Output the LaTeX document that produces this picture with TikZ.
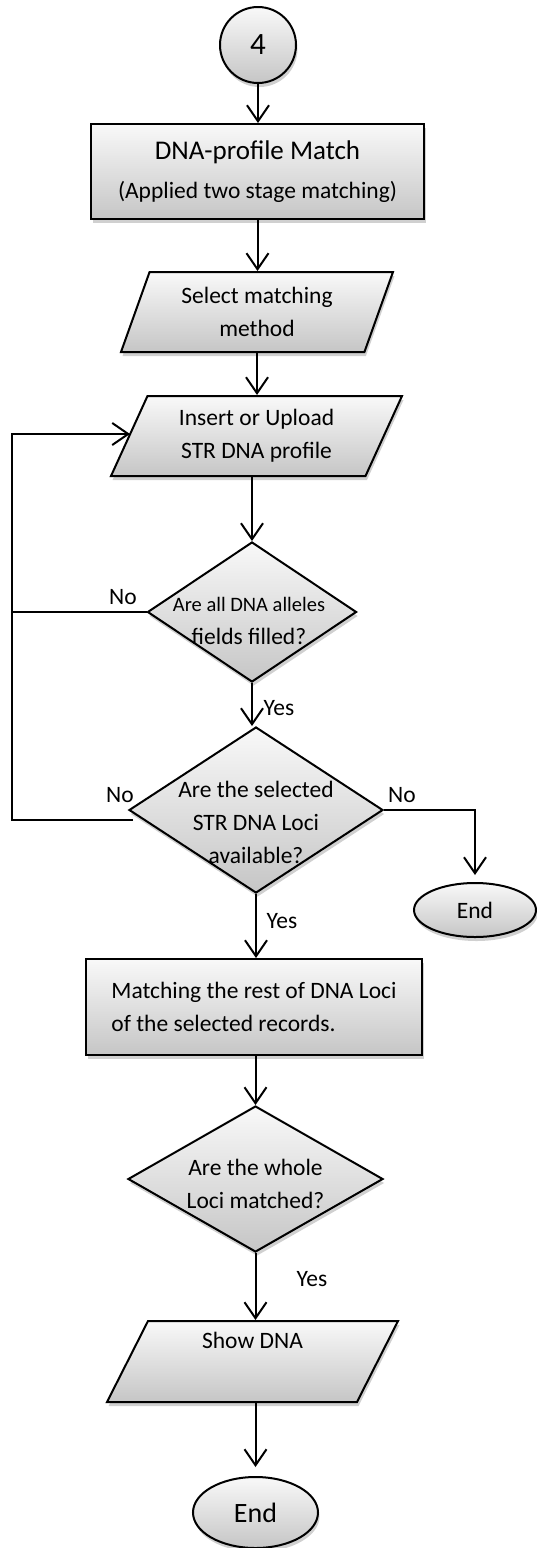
\documentclass[tikz,border=0pt]{standalone}
\usepackage{fontspec}
\setmainfont{Carlito}
\usepackage{tikz}
\usetikzlibrary{shapes.geometric, arrows.meta, shadows}
\tikzstyle{shaded}   = [draw, line width=2pt, top color=gray!5, bottom color=gray!45, drop shadow={shadow xshift=1.5pt, shadow yshift=-4pt, fill=black!37}]
\tikzstyle{terminal} = [shaded, ellipse, inner sep=0pt, align=center]
\tikzstyle{procbox}  = [shaded, rectangle, inner sep=0pt, align=center]
\tikzstyle{iobox}    = [shaded, trapezium, trapezium stretches body, inner sep=0pt, align=center]
\tikzstyle{decision} = [shaded, diamond, inner sep=0pt]
\tikzstyle{plain}    = [inner sep=0pt, align=center]
\tikzstyle{edge}     = [line width=2pt]
\tikzstyle{diredge}  = [line width=2pt, -{Straight Barb[length=16pt, width=22pt]}]
\newcommand{\txt}{\fontsize{23.5}{33}\selectfont}

\begin{document}
\begin{tikzpicture}[x=1pt, y=-1pt, font=\txt]

\useasboundingbox (0,0) rectangle (536,1548);

\node[terminal, circle, minimum size=76pt, font=\fontsize{31}{35}\selectfont] (N4) at (258,45) {4};

\node[procbox, minimum width=333pt, minimum height=95pt] (R1) at (257.5,171.5) {{\fontsize{27}{30}\selectfont DNA-profile Match}\\[6pt](Applied two stage matching)};

\node[iobox, trapezium left angle=60, trapezium right angle=120, minimum width=272pt, minimum height=80pt] (P1) at (257,312) {Select matching\\method};
\node[iobox, trapezium left angle=55.5, trapezium right angle=124.5, minimum width=291pt, minimum height=80pt] (P2) at (256.5,436) {Insert or Upload\\STR DNA profile};

\node[decision, minimum width=209pt, minimum height=140pt] (D1) at (252,612) {};
\node[plain] (D1T) at (249,620.5) {\fontsize{20.5}{29}\selectfont Are all DNA alleles\\fields filled?};

\node[decision, minimum width=254pt, minimum height=166pt] (D2) at (256,810) {};
\node[plain] (D2T) at (256,822.5) {\fontsize{23.5}{34.5}\selectfont Are the selected\\STR DNA Loci\\available?};

\node[terminal, minimum width=122pt, minimum height=54pt] (E1) at (475,910) {End};

\node[procbox, align=left, minimum width=336pt, minimum height=96pt] (R2) at (254,1007) {Matching the rest of DNA Loci\\of the selected records.};

\node[decision, minimum width=255pt, minimum height=146pt] (D3) at (255.5,1179) {};
\node[plain] (D3T) at (255.5,1184) {\fontsize{23.5}{34}\selectfont Are the whole\\Loci matched?};

\node[iobox, trapezium left angle=55.3, trapezium right angle=124.7, minimum width=291pt, minimum height=81pt] (P3) at (252.5,1361.5) {Show DNA\\ \strut};

\node[terminal, minimum width=125pt, minimum height=71pt, font=\fontsize{28}{32}\selectfont] (E2) at (255.5,1512.5) {End};

\node[plain] (NO1) at (123,597) {No};
\node[plain] (YES1) at (279,708) {Yes};
\node[plain] (NO2) at (120,795) {No};
\node[plain] (NO3) at (402,795) {No};
\node[plain] (YES2) at (282,921) {Yes};
\node[plain] (YES3) at (312,1279) {Yes};

\coordinate (LT) at (12,434);
\coordinate (LB) at (12,820);
\coordinate (IN) at (130,434);
\coordinate (D2L) at (133,820);

\draw[diredge] (N4.south) -- (N4.south |- R1.north);
\draw[diredge] (R1.south) -- (R1.south |- P1.north);
\draw[diredge] (P1.south) -- (P1.south |- P2.north);
\draw[diredge] (D1.north |- P2.south) -- (D1.north);
\draw[diredge] (D1.south) -- (D1.south |- D2.north);
\draw[diredge] (D2.south) -- (D2.south |- R2.north);
\draw[diredge] (D3.north |- R2.south) -- (D3.north);
\draw[diredge] (D3.south) -- (D3.south |- P3.north);
\draw[diredge, shorten >=9pt] (E2.north |- P3.south) -- (E2.north);

\draw[edge] (D1.west) -- (D1.west -| LT);
\draw[diredge] (D2L) -- (LB) -- (LT) -- (IN);
\draw[diredge, shorten >=7pt] (D2.east) -| (E1.north);

\end{tikzpicture}
\end{document}
